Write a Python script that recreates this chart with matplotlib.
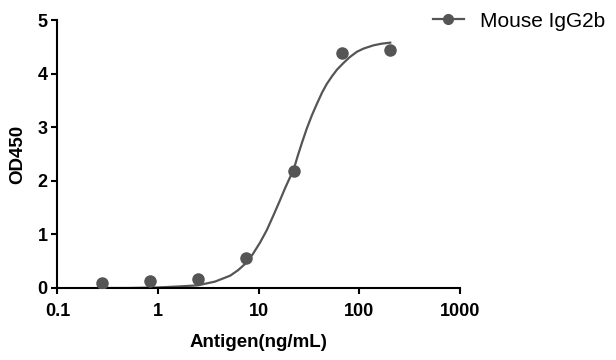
import numpy as np
import matplotlib
matplotlib.use('Agg')
import matplotlib.pyplot as plt

plt.rcParams['font.family'] = ['Liberation Sans', 'DejaVu Sans']

# measured points (antigen ng/mL vs OD450)
conc = [0.274, 0.823, 2.47, 7.41, 22.2, 66.7, 200]
od450 = [0.10, 0.14, 0.16, 0.56, 2.19, 4.39, 4.45]

# fitted curve
curve_x = [0.274, 0.5, 1.0, 1.65, 2.48, 3.68, 5.19, 6.2, 7.31, 8.7, 10.3, 12.0,
           14.0, 16.0, 18.2, 20.0, 22.1, 24.3, 26.7, 30.0, 33.6, 38.0, 42.3, 47.0,
           53.2, 60.0, 69.3, 80.0, 94.2, 110.0, 137.7, 165.0, 202]
curve_y = [0.0, 0.0, 0.01, 0.03, 0.05, 0.12, 0.23, 0.33, 0.45, 0.63, 0.85, 1.08,
           1.36, 1.61, 1.86, 2.03, 2.2, 2.46, 2.7, 2.98, 3.22, 3.45, 3.64, 3.8,
           3.95, 4.08, 4.2, 4.31, 4.41, 4.47, 4.53, 4.56, 4.58]

xticks = [0.1, 1, 10, 100, 1000]
xticklabels = ['0.1', '1', '10', '100', '1000']
yticks = [0, 1, 2, 3, 4, 5]

col = '#555555'

fig = plt.figure(figsize=(6.16, 3.6), dpi=100)
ax = fig.add_axes([0.0933, 0.2, 0.6537, 0.744])

ax.plot(curve_x, curve_y, color=col, linewidth=1.6, zorder=2)
ax.plot(conc, od450, 'o', color=col, markersize=8, zorder=3)
# legend handle
h, = ax.plot([], [], '-o', color=col, linewidth=1.6, markersize=7)

ax.set_xscale('log')
ax.set_xlim(0.1, 1000)
ax.set_ylim(0, 5)
ax.set_xticks(xticks)
ax.set_xticklabels(xticklabels)
ax.xaxis.set_minor_locator(matplotlib.ticker.NullLocator())
ax.set_yticks(yticks)

for s in ['top', 'right']:
    ax.spines[s].set_visible(False)
for s in ['left', 'bottom']:
    ax.spines[s].set_linewidth(1.5)
ax.tick_params(direction='out', length=4, width=1.5, labelsize=13, pad=3)
ax.tick_params(axis='x', pad=7)
for lab in ax.get_xticklabels() + ax.get_yticklabels():
    lab.set_fontweight('bold')

ax.set_xlabel('Antigen(ng/mL)', fontsize=13.5, fontweight='bold', labelpad=10)
ax.set_ylabel('OD450', fontsize=13.5, fontweight='bold', labelpad=8)

fig.legend([h], ['Mouse IgG2b'], loc='upper left', bbox_to_anchor=(0.673, 1.02),
           frameon=False, fontsize=15, handlelength=1.45, handletextpad=0.8)

plt.savefig('out.png', dpi=100)
